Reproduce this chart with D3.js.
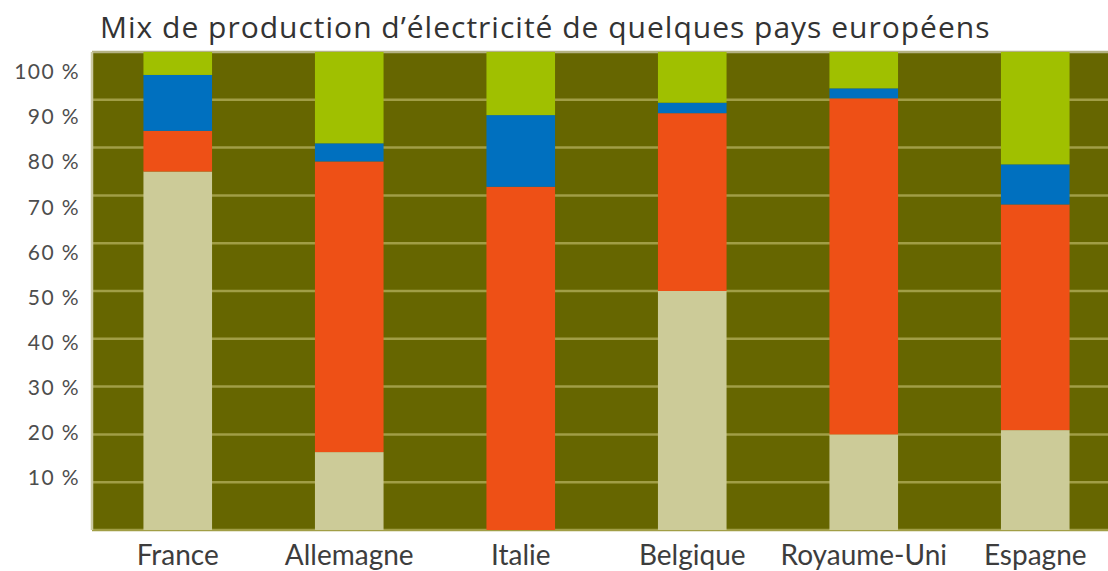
<!DOCTYPE html>
<html>
<head>
<meta charset="utf-8">
<script src="https://cdn.jsdelivr.net/npm/d3@7"></script>
<style>
  body { margin: 0; background: #fff; }
  svg { display: block; font-family: Lato, "Open Sans", sans-serif; }
</style>
</head>
<body>
<svg id="chart"></svg>
<script>
// pays
const countries = ["France", "Allemagne", "Italie", "Belgique", "Royaume-Uni", "Espagne"];

// parts de la production (%), du bas vers le haut
const nucleaire   = [75, 16.3, 0, 50, 20, 20.9];
const fossile     = [8.5, 60.8, 71.8, 37.2, 70.3, 47.2];
const hydraulique = [11.7, 3.8, 15, 2.2, 2.1, 8.4];
const autres      = [4.8, 19.1, 13.2, 10.6, 7.6, 23.5];

const tickValues = [10, 20, 30, 40, 50, 60, 70, 80, 90, 100];
const gridValues = [0, 10, 20, 30, 40, 50, 60, 70, 80, 90, 100];

const keys = ["nucleaire", "fossile", "hydraulique", "autres"];
const colors = {
  nucleaire: "#cccb98",
  fossile: "#ee5016",
  hydraulique: "#0070bf",
  autres: "#a0c000"
};

const W = 1108, H = 571;
const margin = { top: 52, right: -13, bottom: 41, left: 92 };

const table = countries.map((c, i) => ({
  country: c,
  nucleaire: nucleaire[i],
  fossile: fossile[i],
  hydraulique: hydraulique[i],
  autres: autres[i]
}));

const svg = d3.select("#chart").attr("width", W).attr("height", H);

const x = d3.scaleBand()
  .domain(countries)
  .range([margin.left, W - margin.right])
  .paddingInner(0.6)
  .paddingOuter(0.3);

const y = d3.scaleLinear()
  .domain([0, 100])
  .range([H - margin.bottom, margin.top]);

// the tick labels are not aligned on the grid in the original
const yLabel = d3.scaleLinear()
  .domain([10, 100])
  .range([478, 72]);

// plot background
svg.append("rect")
  .attr("x", margin.left)
  .attr("y", y(100))
  .attr("width", W - margin.left)
  .attr("height", y(0) - y(100))
  .attr("fill", "#666600");

// grid
svg.append("g")
  .selectAll("line")
  .data(gridValues)
  .join("line")
  .attr("x1", margin.left)
  .attr("x2", W)
  .attr("y1", d => y(d))
  .attr("y2", d => y(d))
  .attr("stroke", d => d === 100 ? "#b4b283" : "#a19e46")
  .attr("stroke-width", 2.5);

// left border
svg.append("line")
  .attr("x1", margin.left).attr("x2", margin.left)
  .attr("y1", y(100)).attr("y2", y(0))
  .attr("stroke", "#cbc9a2")
  .attr("stroke-width", 2.5);

// stacked bars
const stacked = d3.stack().keys(keys)(table);

svg.append("g")
  .selectAll("g")
  .data(stacked)
  .join("g")
  .attr("fill", d => colors[d.key])
  .selectAll("rect")
  .data(d => d)
  .join("rect")
  .attr("x", d => x(d.data.country))
  .attr("y", d => y(d[1]))
  .attr("width", x.bandwidth())
  .attr("height", d => y(d[0]) - y(d[1]));

// y labels
const yAxis = svg.append("g")
  .attr("transform", "translate(80,0)")
  .call(d3.axisLeft(yLabel)
    .tickValues(tickValues)
    .tickSize(0)
    .tickPadding(0)
    .tickFormat(d => d + " %"));
yAxis.select(".domain").remove();
yAxis.selectAll("text")
  .attr("fill", "#4d4d4d")
  .style("font-size", "21px")
  .style("letter-spacing", "1.4px")
  .style("font-family", "Lato, sans-serif");

// x labels
const xAxis = svg.append("g")
  .attr("transform", `translate(0,${y(0)})`)
  .call(d3.axisBottom(x).tickSize(0).tickPadding(0));
xAxis.select(".domain").remove();
xAxis.selectAll("text")
  .attr("dy", null)
  .attr("y", 35)
  .attr("fill", "#3d3d3d")
  .style("font-size", "28px")
  .style("font-family", "Lato, sans-serif");

// title
svg.append("text")
  .attr("x", 100)
  .attr("y", 38)
  .attr("fill", "#333")
  .style("font-size", "30px")
  .style("letter-spacing", "1px")
  .style("font-family", "'Open Sans', sans-serif")
  .text("Mix de production d\u2019électricité de quelques pays européens");
</script>
</body>
</html>
